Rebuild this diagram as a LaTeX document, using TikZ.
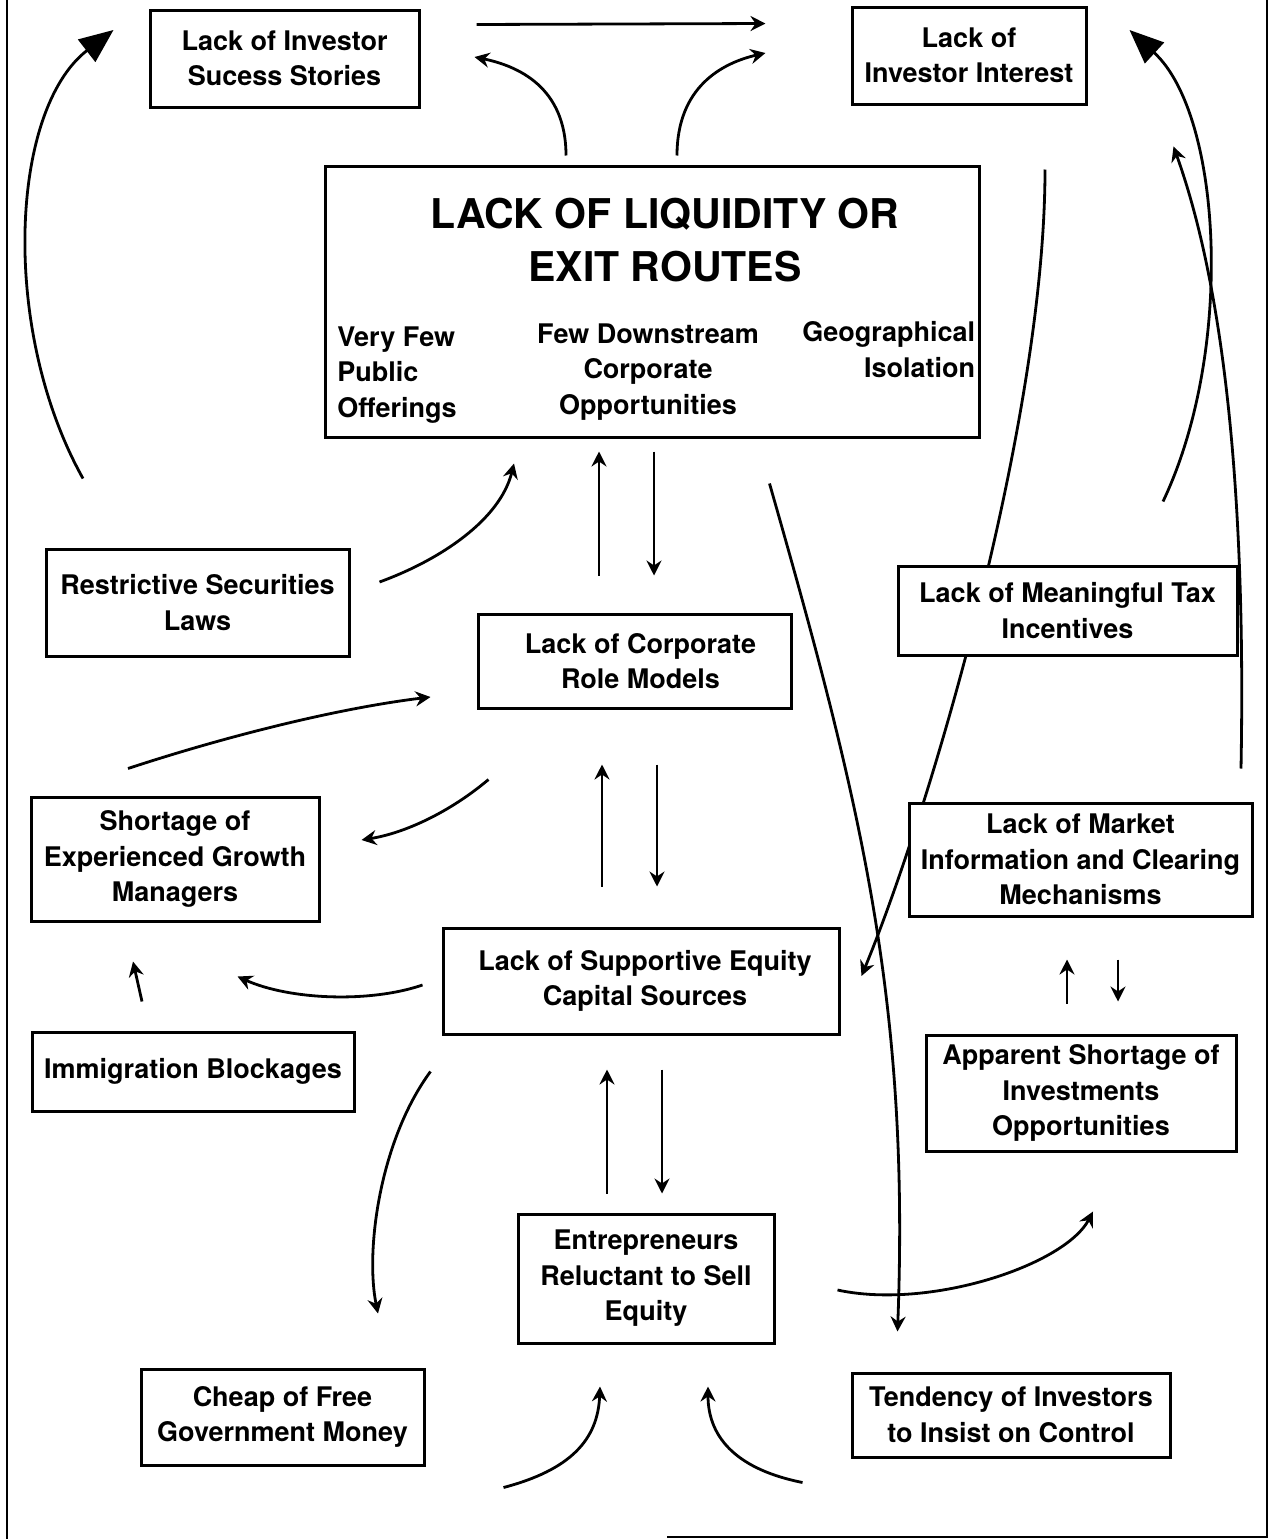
\documentclass[tikz,border=0pt]{standalone}
\usepackage{fontspec}
\setmainfont{TeX Gyre Heros}
\usetikzlibrary{arrows.meta}
\pgfdeclarelayer{behind}
\pgfsetlayers{behind,main}

\tikzset{every picture/.style={line width=2.8pt}}
\tikzset{
  factor/.style={draw, fill=white, line width=3pt, inner sep=0pt, align=center,
    font=\bfseries\fontsize{27}{35.5}\selectfont},
  lbl/.style={inner sep=0pt, font=\bfseries\fontsize{27}{35.5}\selectfont},
  arr/.style={line width=2.8pt, -{Stealth[length=15pt,width=15pt,inset=5pt]}},
  bigarr/.style={line width=2.8pt, -{Triangle[length=34pt,width=28pt]}},
  frameline/.style={line width=1.6pt}
}

\begin{document}
\begin{tikzpicture}[x=1pt,y=1pt,yscale=-1,xscale=1]
\useasboundingbox (0,0) rectangle (1275,1539);

%Frame
\draw [frameline] (7,0) -- (7,1539);
\draw [frameline] (1267,0) -- (1267,1537) -- (667,1537);

% Text Node
\node [factor, minimum width=654pt, minimum height=271pt] (liq) at (652.5,301.5) {};
\node [lbl, font=\bfseries\fontsize{41}{53}\selectfont, align=center, anchor=north] (liqhead) at (665,197) {LACK OF LIQUIDITY OR\\EXIT ROUTES};
\node [lbl, align=left, anchor=north west] (ipo) at (336,325) {Very Few\\Public\\Offerings};
\node [lbl, align=center, anchor=north] (downstream) at (648,322) {Few Downstream\\Corporate\\Opportunities};
\node [lbl, align=right, anchor=north east] (isolation) at (976.5,320) {Geographical\\Isolation};
% Text Node
\node [factor, minimum width=269pt, minimum height=97pt] (stories) at (284.5,58.5) {Lack of Investor\\Sucess Stories};
% Text Node
\node [factor, minimum width=234pt, minimum height=97pt] (interest) at (969,55.5) {Lack of\\Investor Interest};
% Text Node
\node [factor, minimum width=303pt, minimum height=107pt] (securities) at (197.5,602.5) {Restrictive Securities\\Laws};
% Text Node
\node [factor, minimum width=313pt, minimum height=94pt] (rolemodels) at (634.5,661) {\hspace*{12pt}Lack of Corporate\\\hspace*{12pt}Role Models};
% Text Node
\node [factor, minimum width=339pt, minimum height=89pt] (tax) at (1067.5,610.5) {Lack of Meaningful Tax\\Incentives};
% Text Node
\node [factor, minimum width=288pt, minimum height=124pt] (managers) at (175,859) {Shortage of\\Experienced Growth\\Managers};
% Text Node
\node [factor, minimum width=343pt, minimum height=113pt] (market) at (1080.5,859.5) {Lack of Market\\Information and Clearing\\Mechanisms};
% Text Node
\node [factor, minimum width=396pt, minimum height=106pt] (equity) at (641,981) {\hspace*{8pt}Lack of Supportive Equity\\\hspace*{8pt}Capital Sources};
% Text Node
\node [factor, minimum width=322pt, minimum height=79pt] (immigration) at (193,1071.5) {Immigration Blockages};
% Text Node
\node [factor, minimum width=310pt, minimum height=116pt] (apparent) at (1081,1093) {Apparent Shortage of\\Investments\\Opportunities};
% Text Node
\node [factor, minimum width=256pt, minimum height=129pt] (reluctant) at (646,1278.5) {Entrepreneurs\\Reluctant to Sell\\Equity};
% Text Node
\node [factor, minimum width=283pt, minimum height=96pt] (govmoney) at (282.5,1417) {Cheap of Free\\Government Money};
% Text Node
\node [factor, minimum width=318pt, minimum height=84pt] (control) at (1011,1415) {Tendency of Investors\\to Insist on Control};

%Straight Lines
\draw [arr] ([shift={(56,16)}]stories.north east) -- ([shift={(-85,18)}]interest.north west);
%Curve Lines
\draw [arr] ([shift={(-86.5,-9)}]liq.north) .. controls (566,87) and (518,66) .. ([shift={(54,-1.5)}]stories.east);
%Curve Lines
\draw [arr] ([shift={(24.5,-9)}]liq.north) .. controls (677,87) and (722,63) .. ([shift={(-85,-2.5)}]interest.west);
%Curve Lines
\draw [bigarr] ([shift={(-114.5,-69)}]securities.north) .. controls (0,330) and (10,110) .. ([shift={(-35,-28.5)}]stories.west);
%Curve Lines
\draw [bigarr] ([shift={(95.5,-63)}]tax.north) .. controls (1235,350) and (1222,115) .. ([shift={(42,-25.5)}]interest.east);
%Curve Lines
\draw [arr] ([shift={(160.5,-33)}]market.north) .. controls (1246,500) and (1225,290) .. ([shift={(86,41)}]interest.south east);
%Curve Lines
\begin{pgfonlayer}{behind}
\draw [arr] ([shift={(76,64)}]interest.south) .. controls (1045,420) and (930,810) .. ([shift={(21,-5)}]equity.east);
\end{pgfonlayer}
%Curve Lines
\draw [arr] ([shift={(-211.5,45)}]liq.south east) .. controls (860,800) and (910,1000) .. ([shift={(47,-40)}]control.north west);
%Curve Lines
\draw [arr] ([shift={(29,-20.5)}]securities.east) .. controls (440,560) and (500,520) .. ([shift={(-138.5,25)}]liq.south);

%Straight Lines
\draw [arr] ([shift={(-35.5,-37)}]rolemodels.north) -- ([shift={(-53.5,13)}]liq.south);
\draw [arr] ([shift={(1.5,13)}]liq.south) -- ([shift={(19.5,-37)}]rolemodels.north);
%Straight Lines
\draw [arr] ([shift={(-39,-40)}]equity.north) -- ([shift={(-32.5,55)}]rolemodels.south);
\draw [arr] ([shift={(22.5,55)}]rolemodels.south) -- ([shift={(16,-40)}]equity.north);
%Straight Lines
\draw [arr] ([shift={(-39,-19)}]reluctant.north) -- ([shift={(-34,34)}]equity.south);
\draw [arr] ([shift={(21,34)}]equity.south) -- ([shift={(16,-19)}]reluctant.north);
%Straight Lines
\draw [arr] ([shift={(-14,-30)}]apparent.north) -- ([shift={(-13.5,42)}]market.south);
\draw [arr] ([shift={(37.5,42)}]market.south) -- ([shift={(37,-32)}]apparent.north);

%Curve Lines
\draw [arr] ([shift={(-47,-27)}]managers.north) .. controls (230,735) and (340,708) .. ([shift={(-46,36)}]rolemodels.west);
%Curve Lines
\draw [arr] ([shift={(12,70)}]rolemodels.south west) .. controls (450,812) and (405,833) .. ([shift={(41,-19)}]managers.east);
%Curve Lines
\draw [arr] ([shift={(-19,4)}]equity.west) .. controls (370,1003) and (290,1000) .. ([shift={(-83,54)}]managers.south east);
%Straight Lines
\draw [arr] ([shift={(-51,-29)}]immigration.north) -- ([shift={(-42,39)}]managers.south);
%Curve Lines
\draw [arr] ([shift={(-11,36)}]equity.south west) .. controls (380,1140) and (365,1250) .. ([shift={(95.5,-54)}]govmoney.north);
%Curve Lines
\draw [arr] ([shift={(62,11.5)}]reluctant.east) .. controls (930,1310) and (1065,1265) .. ([shift={(12,59)}]apparent.south);
%Curve Lines
\draw [arr] ([shift={(78,21)}]govmoney.south east) .. controls (570,1470) and (598,1440) .. ([shift={(-46,42)}]reluctant.south);
%Curve Lines
\draw [arr] ([shift={(-48,24)}]control.south west) .. controls (740,1470) and (708,1440) .. ([shift={(62,42)}]reluctant.south);

\end{tikzpicture}
\end{document}
